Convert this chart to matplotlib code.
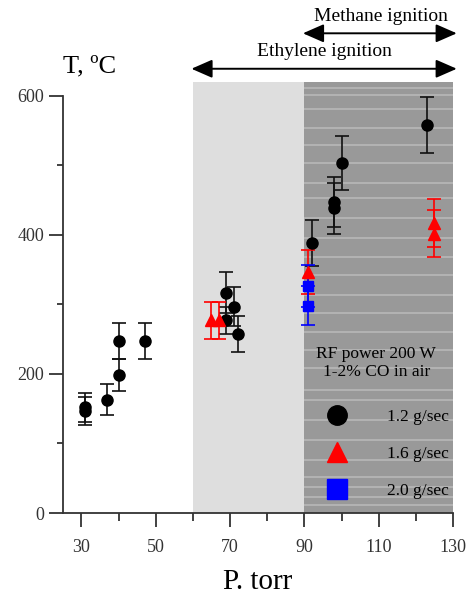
import matplotlib
matplotlib.use("Agg")
import matplotlib.pyplot as plt
from matplotlib.lines import Line2D

plt.rcParams['font.family'] = ['Liberation Serif', 'DejaVu Serif']

# 1.2 g/sec (black circles)
black_p = [31, 31, 37, 40, 40, 47, 69, 69, 71, 72, 92, 98, 98, 100, 123]
black_t = [152, 147, 163, 198, 248, 248, 317, 277, 297, 258, 388, 447, 438, 503, 558]
black_err = [21, 20, 22, 23, 26, 26, 29, 20, 28, 26, 33, 36, 36, 39, 40]

# 1.6 g/sec (red triangles)
red_p = [65, 67, 91, 125, 125]
red_t = [277, 277, 347, 417, 402]
red_err = [27, 27, 32, 34, 34]

# 2.0 g/sec (blue squares)
blue_p = [91, 91]
blue_t = [327, 298]
blue_err = [30, 28]

legend_labels = ['1.2 g/sec', '1.6 g/sec', '2.0 g/sec']
legend_title = 'RF power 200 W\n1-2% CO in air'

ethylene_range = (60, 130)
methane_range = (90, 130)

# decorative light stripes across the methane zone (data units)
stripe_y = [611, 601, 581, 554, 529, 504, 475, 453, 424, 396, 368, 342, 314,
            288, 260, 235, 209, 177, 163, 134, 105, 76, 52, 37, 23, 12]

fig = plt.figure(figsize=(4.69, 5.97), dpi=100)
ax = fig.add_axes([0.134, 0.1407, 0.832, 0.722])

ax.axvspan(ethylene_range[0], methane_range[0], color='#dedede', lw=0, zorder=0)
ax.axvspan(methane_range[0], methane_range[1], color='#999999', lw=0, zorder=0)
ax.hlines(stripe_y, methane_range[0], methane_range[1], color='#b3b3b3', lw=1.4, zorder=0.5)

ax.errorbar(black_p, black_t, yerr=black_err, fmt='o', color='black', ms=8,
            ecolor='#111111', elinewidth=1.2, capsize=5, capthick=1.2, zorder=3)
ax.errorbar(red_p, red_t, yerr=red_err, fmt='^', color='red', ms=8,
            ecolor='red', elinewidth=1.2, capsize=5, capthick=1.2, zorder=3)
ax.errorbar(blue_p, blue_t, yerr=blue_err, fmt='s', color='blue', ms=7,
            ecolor='blue', elinewidth=1.2, capsize=5, capthick=1.2, zorder=3)

ax.set_xlim(25, 130)
ax.set_ylim(0, 620)
ax.spines['top'].set_visible(False)
ax.spines['right'].set_visible(False)
ax.spines['left'].set_bounds(0, 600)
for s in ('left', 'bottom'):
    ax.spines[s].set_linewidth(1.3)
    ax.spines[s].set_color('#333333')

ax.set_xticks([30, 50, 70, 90, 110, 130])
ax.set_xticks([40, 60, 80, 100, 120], minor=True)
ax.set_yticks([0, 200, 400, 600])
ax.set_yticks([100, 300, 500], minor=True)
ax.tick_params(which='major', direction='out', length=10, width=1.3, color='#333333',
               labelsize=13, labelcolor='#333333')
ax.tick_params(axis='x', which='major', pad=9)
ax.tick_params(axis='x', which='minor', direction='out', length=6, width=1.3, color='#333333')
ax.tick_params(axis='y', which='minor', direction='out', length=4, width=1.3, color='#333333')

ax.set_xlabel('P. torr', fontsize=21, labelpad=9)
fig.text(63 / 469, 1 - 72 / 597, 'T, ºC', fontsize=19, ha='left', va='baseline')

arrow = dict(arrowstyle='<|-|>,head_length=0.8,head_width=0.35', color='black',
             lw=1.4, mutation_scale=16, shrinkA=0, shrinkB=0)
ax.annotate('', xy=(ethylene_range[0] - 0.4, 639), xytext=(ethylene_range[1] + 1, 639),
            arrowprops=arrow, annotation_clip=False)
ax.annotate('', xy=(methane_range[0] - 0.4, 690), xytext=(methane_range[1] + 1, 690),
            arrowprops=arrow, annotation_clip=False)
ax.text(95.3, 652, 'Ethylene ignition', fontsize=14, ha='center', va='bottom', clip_on=False)
ax.text(110.6, 702, 'Methane ignition', fontsize=14, ha='center', va='bottom', clip_on=False)

ax.text(0.803, 0.348, legend_title, transform=ax.transAxes, fontsize=12.5,
        ha='center', va='center', multialignment='center', linespacing=1.15, zorder=4)
handles = [Line2D([], [], ls='none', marker='o', color='black', ms=14),
           Line2D([], [], ls='none', marker='^', color='red', ms=14),
           Line2D([], [], ls='none', marker='s', color='blue', ms=14)]
ax.legend(handles, legend_labels, loc='center', bbox_to_anchor=(0.823, 0.137),
          frameon=False, fontsize=12.5, handlelength=2, handletextpad=1.9,
          labelspacing=1.18, borderpad=0)

fig.savefig('out.png', dpi=100)
